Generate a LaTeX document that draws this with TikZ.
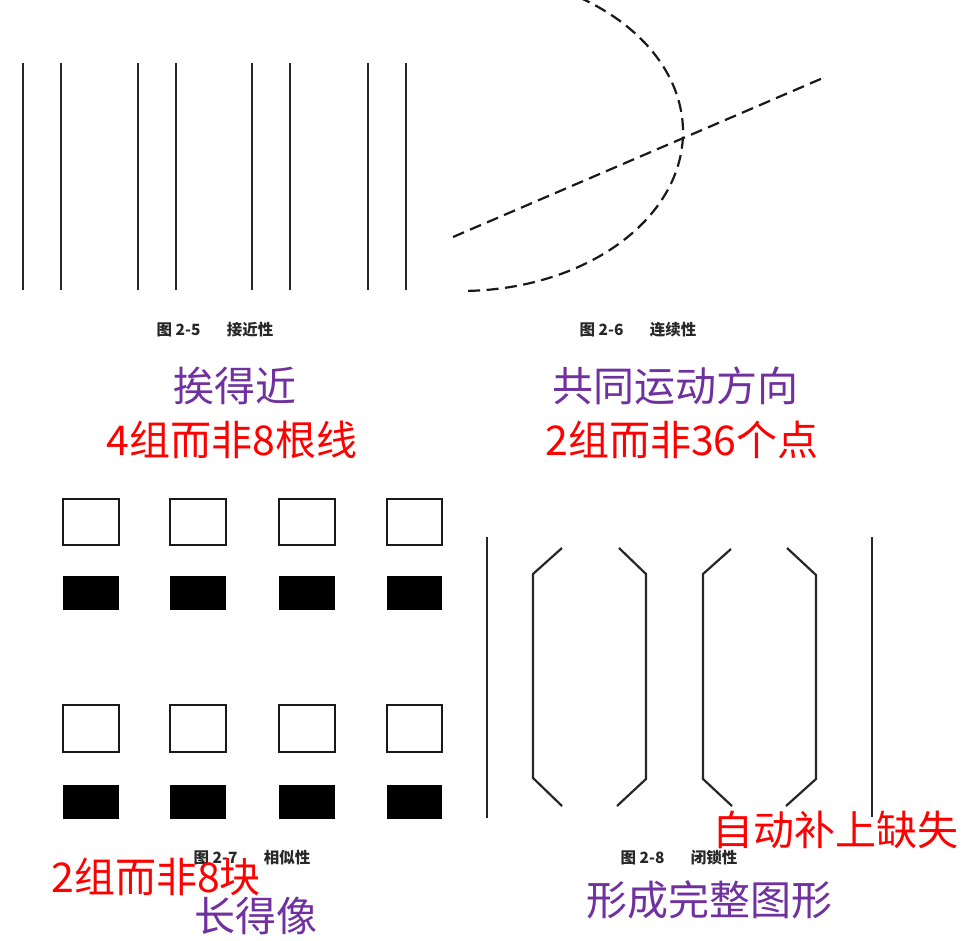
\documentclass[tikz,border=0pt]{standalone}
\usepackage{fontspec}
\newfontfamily\cjk{Noto Sans CJK SC}
\definecolor{lblpurple}{RGB}{112,48,160}
\definecolor{lblred}{RGB}{255,0,0}
\definecolor{capgray}{RGB}{40,40,40}
\tikzset{
  bar/.style={line width=2.2pt, black!85},
  dashline/.style={line width=2.2pt, black!90, dash pattern=on 12pt off 6.5pt},
  openbox/.style={draw=black!90, line width=2.1pt},
  fillbox/.style={fill=black},
  caption/.style={inner sep=0pt, text=capgray, font=\cjk\bfseries\fontsize{15.5}{15.5}\selectfont},
  bigpurple/.style={inner sep=0pt, text=lblpurple, font=\cjk\fontsize{41}{41}\selectfont},
  bigred/.style={inner sep=0pt, text=lblred, font=\cjk\fontsize{41}{41}\selectfont},
}
\begin{document}
\begin{tikzpicture}[x=1pt,y=-1pt]
\useasboundingbox[fill=white] (0,0) rectangle (964,941);

% Fig 2-5: proximity lines
\foreach \x in {23,61,138,176,252,290,368,406}
  \draw[bar] (\x,63) -- (\x,290);

% Fig 2-6: continuity (dashed)
\draw[dashline] plot[domain=-58:89, samples=80, smooth] ({461+222*cos(\x)}, {132+159*sin(\x)});
\draw[dashline] (453,237) -- (823,78);

% Fig 2-7: similarity
\foreach \x/\w in {63/56,170/56,279/56,387/55} {
  \draw[openbox] (\x,499) rectangle ++(\w,46);
  \fill[fillbox] (\x,576) rectangle ++(\w,34);
  \draw[openbox] (\x,705) rectangle ++(\w,47);
  \fill[fillbox] (\x,785) rectangle ++(\w,34);
}

% Fig 2-8: closure
\draw[bar] (487,537) -- (487,818);
\draw[bar] (872,537) -- (872,817);
\draw[bar] (562,548) -- (533,574) -- (533,778) -- (562,806);
\draw[bar] (619,548) -- (646,574) -- (646,779) -- (617,806);
\draw[bar] (731,549) -- (703,574) -- (703,779) -- (732,806);
\draw[bar] (787,548) -- (816,575) -- (816,779) -- (786,806);

% captions
\node[caption] (c5) at (215,330) {图 2-5\hspace{1.7em}接近性};
\node[caption] (c6) at (638,330) {图 2-6\hspace{1.7em}连续性};
\node[caption] (c7) at (252,858) {图 2-7\hspace{1.7em}相似性};
\node[caption] (c8) at (679,858) {图 2-8\hspace{1.7em}闭锁性};

% labels
\node[bigpurple] (p1) at (235,386) {挨得近};
\node[bigred]    (r1) at (232,440) {4组而非8根线};
\node[bigpurple] (p2) at (675,386) {共同运动方向};
\node[bigred]    (r2) at (682,440) {2组而非36个点};
\node[bigred]    (r3) at (835,830) {自动补上缺失};
\node[bigred]    (r4) at (156,877) {2组而非8块};
\node[bigpurple] (p3) at (256,916) {长得像};
\node[bigpurple] (p4) at (709,900) {形成完整图形};
\end{tikzpicture}
\end{document}
